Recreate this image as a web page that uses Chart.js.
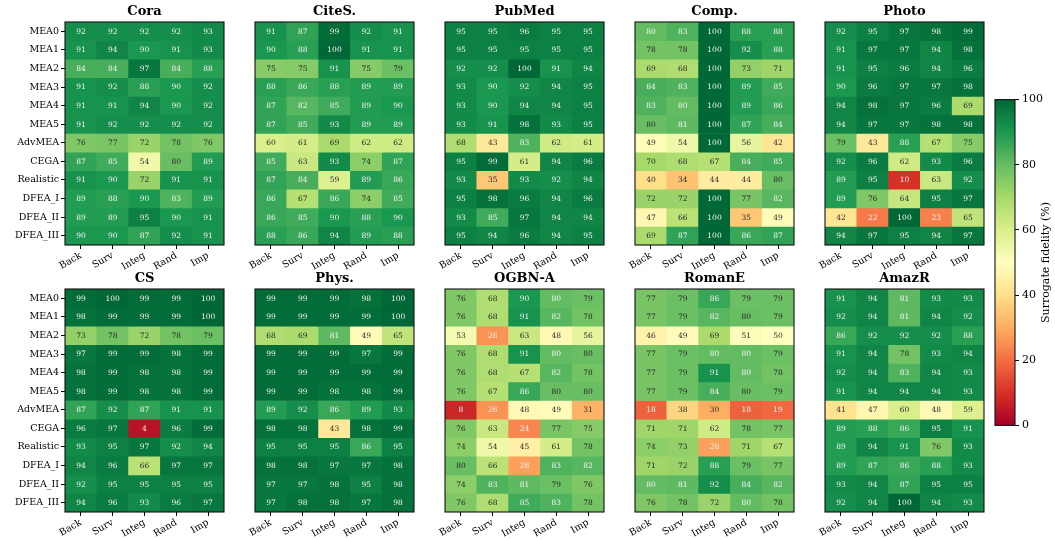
<!DOCTYPE html>
<html><head><meta charset="utf-8">
<script src="https://cdn.jsdelivr.net/npm/chart.js@4.4.0/dist/chart.umd.min.js"></script>
<style>
html,body{margin:0;padding:0;background:#fff;}
#wrap{position:relative;width:1055px;height:540px;overflow:hidden;background:#fff;}
canvas{position:absolute;}
</style></head><body><div id="wrap"></div>
<script>
const rowLabels = ['MEA0','MEA1','MEA2','MEA3','MEA4','MEA5','AdvMEA','CEGA','Realistic','DFEA_I','DFEA_II','DFEA_III'];
const colLabels = ['Back','Surv','Integ','Rand','Imp'];
const panelTitles = ['Cora','CiteS.','PubMed','Comp.','Photo','CS','Phys.','OGBN-A','RomanE','AmazR'];
const cbTicks = [0,20,40,60,80,100];
const cbLabel = 'Surrogate fidelity (%)';

const cora = [
 [92,92,92,92,93],[91,94,90,91,93],[84,84,97,84,88],[91,92,88,90,92],[91,91,94,90,92],[91,92,92,92,92],
 [76,77,72,78,76],[87,85,54,79.6,89],[91,90,72,91,91],[89,88,90,83,89],[89,89,95,90,91],[90,90,87,92,91]];
const citeseer = [
 [91,87,99,92,91],[90,88,100,91,91],[75,75,91,75,79],[88,86,88,89,89],[87,82,85,89,90],[87,85,93,89,89],
 [60,61,69,62,62],[85,63,93,74,87],[87,84,59,89,86],[86,67,86,74,85],[86,85,90,88,90],[88,86,94,89,88]];
const pubmed = [
 [95,95,96,95,95],[95,95,95,95,95],[92,92,100,91,94],[93,90,92,94,95],[93,90,94,94,95],[93,91,98,93,95],
 [68,43,83,62,61],[95,99,61,94,96],[93,35,93,92,94],[95,98,96,94,96],[93,85,97,94,94],[95,94,96,94,95]];
const computers = [
 [80.4,83,100,88,88],[78,78,100,92,88],[69,68,100,73,71],[84,83,100,89,85],[83,80.4,100,89,86],[79.6,81,100,87,84],
 [49,54,100,56,42],[70,68,67,84,85],[40,34,44,44,79.6],[72,72,100,77,82],[47,66,100,35,49],[69,87,100,86,87]];
const photo = [
 [92,95,97,98,99],[91,97,97,94,98],[91,95,96,94,96],[90,96,97,97,98],[94,98,97,96,69],[94,97,97,98,98],
 [79,43,88,67,75],[92,96,62,93,96],[89,95,10,63,92],[89,76,64,95,97],[42,22,100,23,65],[94,97,95,94,97]];
const cs = [
 [99,100,99,99,100],[98,99,99,99,100],[73,78,72,78,79],[97,99,99,98,99],[98,99,98,98,99],[98,99,98,98,99],
 [87,92,87,91,91],[96,97,4,96,99],[93,95,97,92,94],[94,96,66,97,97],[92,95,95,95,95],[94,96,93,96,97]];
const physics = [
 [99,99,99,98,100],[99,99,99,99,100],[68,69,81,49,65],[99,99,99,97,99],[99,99,99,99,99],[99,99,98,98,99],
 [89,92,86,89,93],[98,98,43,98,99],[95,95,95,86,95],[98,98,97,97,98],[97,97,98,95,98],[97,98,98,97,98]];
const ogbnArxiv = [
 [76,68,90,80.4,79],[76,68,91,82,78],[53,26,63,48,56],[76,68,91,80.4,79.6],[76,68,67,82,78],[76,67,86,79.6,79.6],
 [8,26,48,49,31],[76,63,24,77,75],[74,54,45,61,78],[79.6,66,28,83,82],[74,83,81,79,76],[76,68,85,83,78]];
const romanE = [
 [77,79,86,79,79],[77,79,82,79.6,79],[46,49,69,51,50],[77,79,80.4,80.4,79],[77,79,91,80.4,78],[77,79,84,79.6,79],
 [18,38,30,18,19],[71,71,62,78,77],[74,73,28,71,67],[71,72,88,79,77],[80.4,81,92,84,82],[76,78,72,80.4,78]];
const amazR = [
 [91,94,81,93,93],[92,94,81,94,92],[86,92,92,92,88],[91,94,78,93,94],[92,94,83,94,93],[91,94,94,94,93],
 [41,47,60,48,59],[89,88,86,95,91],[89,94,91,76,93],[89,87,86,88,93],[93,94,87,95,95],[92,94,100,94,93]];

const panels = [cora, citeseer, pubmed, computers, photo, cs, physics, ogbnArxiv, romanE, amazR];

// ---- styling / layout ----
const RdYlGn = ['#a50026','#d73027','#f46d43','#fdae61','#fee08b','#ffffbf','#d9ef8b','#a6d96a','#66bd63','#1a9850','#006837'];
function hex(h){return [parseInt(h.slice(1,3),16),parseInt(h.slice(3,5),16),parseInt(h.slice(5,7),16)];}
function cmap(v){
  const t = Math.max(0,Math.min(1,v/100))*10;
  const i = Math.min(9,Math.floor(t)); const f = t-i;
  const a = hex(RdYlGn[i]), b = hex(RdYlGn[i+1]);
  return 'rgb('+a.map((x,k)=>Math.round(x+(b[k]-x)*f)).join(',')+')';
}
Chart.defaults.font.family = '"DejaVu Serif", serif';
Chart.defaults.color = '#000';

const plotLefts = [65,255,445,635,825];
const rowTops = [22,289];
const PW = 159, PH = 223, LPAD = 65, TOPH = 22, XH = 45;
const wrap = document.getElementById('wrap');

const frame = {id:'frame', afterDraw(chart){
  const c = chart.ctx, a = chart.chartArea;
  c.save(); c.strokeStyle = '#111'; c.lineWidth = 1.1;
  c.strokeRect(a.left, a.top, a.right-a.left, a.bottom-a.top); c.restore();
}};
const cellText = {id:'cellText', afterDatasetsDraw(chart){
  const c = chart.ctx; c.save();
  c.font = '7.5px "DejaVu Serif"'; c.textAlign = 'center'; c.textBaseline = 'middle';
  chart.data.datasets.forEach((ds,i)=>{
    chart.getDatasetMeta(i).data.forEach((el,j)=>{
      const v = ds.values[j];
      c.fillStyle = (v >= 80 || v < 29.5) ? '#f4f4f4' : '#262626';
      c.fillText(String(Math.round(v)), el.x, (el.y+el.base)/2 + 0.5);
    });
  });
  c.restore();
}};

function makeCanvas(l,t,w,h){
  const cv = document.createElement('canvas');
  cv.width = w; cv.height = h; cv.style.left = l+'px'; cv.style.top = t+'px';
  cv.style.width = w+'px'; cv.style.height = h+'px';
  wrap.appendChild(cv); return cv;
}

panels.forEach((data, p)=>{
  const col = p % 5, row = Math.floor(p/5);
  const isLeft = col === 0;
  const cv = makeCanvas(plotLefts[col]-LPAD, rowTops[row]-TOPH, LPAD+PW+2, TOPH+PH+XH);
  const yScale = {
    type:'linear', stacked:true, reverse:true, min:0, max:rowLabels.length, display:isLeft,
    grid:{drawOnChartArea:false, drawTicks:true, tickLength:4, color:'#000'},
    border:{display:false},
    afterBuildTicks:s=>{ s.ticks = rowLabels.map((_,i)=>({value:i+0.5})); },
    ticks:{callback:v=>rowLabels[Math.floor(v)], font:{size:9.5}, color:'#000', padding:2, autoSkip:false}
  };
  if (isLeft) yScale.afterFit = s=>{ s.width = LPAD; };
  new Chart(cv, {
    type:'bar',
    data:{labels:colLabels, datasets:data.map((r,i)=>({
      label:rowLabels[i], data:r.map(()=>1), values:r,
      backgroundColor:r.map(cmap), borderWidth:0, barPercentage:1, categoryPercentage:1
    }))},
    options:{
      responsive:false, animation:false, devicePixelRatio:1,
      layout:{padding:{left:isLeft?0:LPAD, right:2, top:0, bottom:0}},
      plugins:{legend:{display:false}, tooltip:{enabled:false},
        title:{display:true, text:panelTitles[p], fullSize:false, color:'#000',
          font:{size:13, weight:'bold'}, padding:{top:4, bottom:2.4}}},
      scales:{
        x:{type:'category', stacked:true, offset:true,
          grid:{offset:false, drawOnChartArea:false, drawTicks:true, tickLength:4, color:'#000'},
          border:{display:false},
          ticks:{minRotation:30, maxRotation:30, autoSkip:false, font:{size:9.5}, color:'#000', padding:1},
          afterFit:s=>{ s.height = XH; }},
        y:yScale
      }
    },
    plugins:[cellText, frame]
  });
});

// ---- colorbar ----
const cbCanvas = makeCanvas(990, 90, 65, 345);
const cbText = {id:'cbText', afterDraw(chart){
  const c = chart.ctx, a = chart.chartArea; c.save();
  c.font = '11px "DejaVu Serif"'; c.fillStyle = '#000'; c.textAlign = 'center'; c.textBaseline = 'middle';
  c.translate(56, (a.top+a.bottom)/2); c.rotate(-Math.PI/2); c.fillText(cbLabel, 0, 0); c.restore();
}};
new Chart(cbCanvas, {
  type:'bar',
  data:{labels:[''], datasets:[{
    data:[[cbTicks[0], cbTicks[cbTicks.length-1]]],
    backgroundColor:(ctx)=>{
      const ch = ctx.chart; if (!ch.chartArea) return '#888';
      const y0 = ch.scales.y.getPixelForValue(0), y1 = ch.scales.y.getPixelForValue(100);
      const g = ch.ctx.createLinearGradient(0,y0,0,y1);
      RdYlGn.forEach((col,i)=>g.addColorStop(i/10,col));
      return g;
    },
    borderWidth:0, barPercentage:1, categoryPercentage:1, inflateAmount:0
  }]},
  options:{
    responsive:false, animation:false, devicePixelRatio:1,
    layout:{padding:{left:5, right:0, top:7, bottom:7}},
    plugins:{legend:{display:false}, tooltip:{enabled:false}},
    scales:{
      x:{display:false, offset:true},
      y:{position:'right', min:cbTicks[0], max:cbTicks[cbTicks.length-1],
        afterBuildTicks:s=>{ s.ticks = cbTicks.map(v=>({value:v})); },
        ticks:{font:{size:11}, color:'#000', padding:3},
        grid:{drawOnChartArea:false, drawTicks:true, tickLength:4, color:'#000'},
        border:{display:false},
        afterFit:s=>{ s.width = 40; }}
    }
  },
  plugins:[frame, cbText]
});
</script></body></html>
